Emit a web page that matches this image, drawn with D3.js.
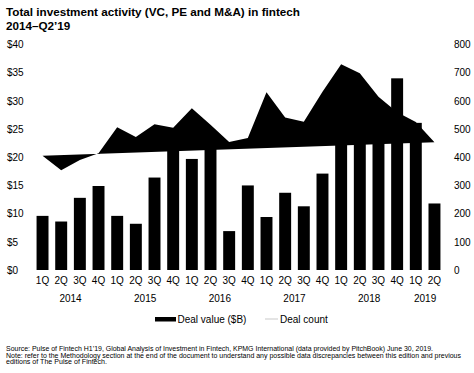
<!DOCTYPE html>
<html>
<head>
<meta charset="utf-8">
<script src="https://cdn.jsdelivr.net/npm/d3@7"></script>
<style>
  body { margin: 0; background: #fff; }
  svg text { font-family: Arial, "Liberation Sans", sans-serif; fill: #000; }
</style>
</head>
<body>
<div id="chart"></div>
<script>
// chart data
var periods = ["1Q14", "2Q14", "3Q14", "4Q14", "1Q15", "2Q15", "3Q15", "4Q15",
  "1Q16", "2Q16", "3Q16", "4Q16", "1Q17", "2Q17", "3Q17", "4Q17",
  "1Q18", "2Q18", "3Q18", "4Q18", "1Q19", "2Q19"];
var quarterLabels = ["1Q", "2Q", "3Q", "4Q", "1Q", "2Q", "3Q", "4Q",
  "1Q", "2Q", "3Q", "4Q", "1Q", "2Q", "3Q", "4Q",
  "1Q", "2Q", "3Q", "4Q", "1Q", "2Q"];
var years = ["2014", "2015", "2016", "2017", "2018", "2019"];
var dealValue = [9.6, 8.6, 12.8, 14.9, 9.6, 8.2, 16.4, 23.0,
  19.7, 22.0, 6.9, 15.0, 9.4, 13.7, 11.3, 17.1,
  24.0, 31.0, 26.0, 34.0, 26.1, 11.8];
var dealCount = [405, 354, 390, 414, 506, 472, 517, 505,
  574, 515, 454, 468, 631, 541, 526, 632,
  730, 698, 615, 560, 525, 453];
var leftTicks = [0, 5, 10, 15, 20, 25, 30, 35, 40];
var rightTicks = [0, 100, 200, 300, 400, 500, 600, 700, 800];

var svgWidth = 474;
var svgHeight = 373;

var svg = d3.select("#chart")
  .append("svg")
  .attr("width", svgWidth)
  .attr("height", svgHeight);

// title
svg.append("text")
  .attr("x", 6)
  .attr("y", 16)
  .style("font-size", "11.7px")
  .style("font-weight", "bold")
  .text("Total investment activity (VC, PE and M&A) in fintech");

svg.append("text")
  .attr("x", 6)
  .attr("y", 29.5)
  .style("font-size", "11.7px")
  .style("font-weight", "bold")
  .text("2014\u2013Q2\u201919");

// scales
var xScale = d3.scaleBand()
  .domain(periods)
  .range([33.2, 443.8])
  .paddingInner(0.36)
  .paddingOuter(0.18);

var yLeft = d3.scaleLinear()
  .domain([0, 40])
  .range([270, 44.5]);

var yRight = d3.scaleLinear()
  .domain([0, 800])
  .range([270, 44.5]);

// bars
svg.append("g")
  .selectAll("rect")
  .data(dealValue)
  .enter()
  .append("rect")
  .attr("x", (d, i) => xScale(periods[i]))
  .attr("y", d => yLeft(d))
  .attr("width", xScale.bandwidth())
  .attr("height", d => yLeft(0) - yLeft(d))
  .attr("fill", "#000");

// deal count line -- the filled path closes itself from last point back to first
var countLine = d3.line()
  .x((d, i) => xScale(periods[i]) + xScale.bandwidth() / 2)
  .y(d => yRight(d));

svg.append("path")
  .datum(dealCount)
  .attr("d", countLine)
  .attr("fill", "#000")
  .attr("stroke", "none");

// left axis
var leftAxis = svg.append("g")
  .attr("transform", "translate(7, 0)")
  .call(d3.axisLeft(yLeft).tickValues(leftTicks).tickSize(0).tickPadding(0)
    .tickFormat(d => "$" + d));

// right axis
var rightAxis = svg.append("g")
  .attr("transform", "translate(454, 0)")
  .call(d3.axisRight(yRight).tickValues(rightTicks).tickSize(0).tickPadding(0));

// bottom axis with quarter labels
var bottomAxis = svg.append("g")
  .attr("transform", "translate(0, 270)")
  .call(d3.axisBottom(xScale).tickSize(0).tickPadding(7)
    .tickFormat((d, i) => quarterLabels[i]));

[leftAxis, rightAxis, bottomAxis].forEach(function(ax) {
  ax.select(".domain").remove();
  ax.selectAll("text")
    .style("font-size", "10px")
    .style("font-family", "Arial, 'Liberation Sans', sans-serif")
    .attr("fill", "#000");
});
leftAxis.selectAll("text").attr("text-anchor", "start");
rightAxis.selectAll("text").attr("text-anchor", "start");

// year labels centred under their quarters
svg.append("g")
  .selectAll("text")
  .data(years)
  .enter()
  .append("text")
  .attr("x", function(y) {
    var ps = periods.filter(p => p.slice(2) === y.slice(2));
    var first = xScale(ps[0]);
    var last = xScale(ps[ps.length - 1]) + xScale.bandwidth();
    return (first + last) / 2;
  })
  .attr("y", 302)
  .attr("text-anchor", "middle")
  .style("font-size", "10px")
  .text(d => d);

// legend
var legend = svg.append("g");
legend.append("rect")
  .attr("x", 155)
  .attr("y", 317)
  .attr("width", 21)
  .attr("height", 4.5)
  .attr("fill", "#000");
legend.append("text")
  .attr("x", 177.5)
  .attr("y", 323)
  .style("font-size", "10px")
  .text("Deal value ($B)");
legend.append("line")
  .attr("x1", 265)
  .attr("x2", 278)
  .attr("y1", 319)
  .attr("y2", 319)
  .attr("stroke", "#bbb")
  .attr("stroke-width", 0.8);
legend.append("text")
  .attr("x", 280)
  .attr("y", 323)
  .style("font-size", "10px")
  .text("Deal count");

// footnote
var notes = svg.append("g").style("font-size", "6.3px");
notes.append("text")
  .attr("x", 6)
  .attr("y", 351)
  .attr("textLength", 427)
  .attr("lengthAdjust", "spacingAndGlyphs")
  .text("Source: Pulse of Fintech H1\u201919, Global Analysis of Investment in Fintech, KPMG International (data provided by PitchBook) June 30, 2019.");
notes.append("text")
  .attr("x", 6)
  .attr("y", 357.5)
  .attr("textLength", 455)
  .attr("lengthAdjust", "spacingAndGlyphs")
  .text("Note: refer to the Methodology section at the end of the document to understand any possible data discrepancies between this edition and previous");
notes.append("text")
  .attr("x", 6)
  .attr("y", 364)
  .attr("textLength", 101)
  .attr("lengthAdjust", "spacingAndGlyphs")
  .text("editions of The Pulse of Fintech.");
</script>
</body>
</html>
